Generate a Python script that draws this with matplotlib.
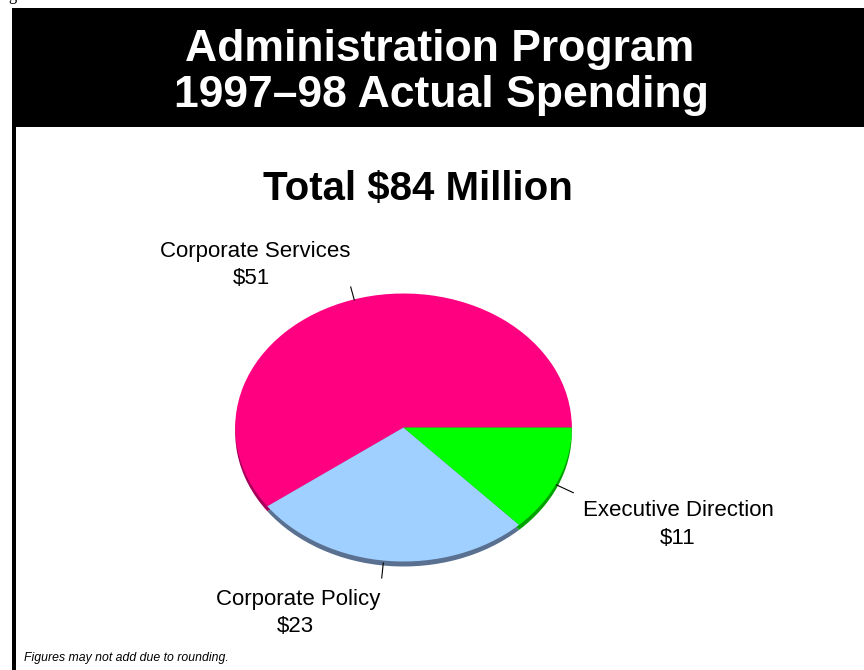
import matplotlib
matplotlib.use("Agg")
import matplotlib.pyplot as plt
from matplotlib.patches import Rectangle

# ---- data ----
categories = ["Corporate Services", "Corporate Policy", "Executive Direction"]
values = [51, 23, 11]
value_labels = ["$51", "$23", "$11"]
title_lines = ["Administration Program", "1997\u201398 Actual Spending"]
subtitle = "Total $84 Million"
footnote = "Figures may not add due to rounding."

top_colors = ["#FF0080", "#A0D0FF", "#00FF00"]
shadow_colors = ["#A8005A", "#5A7090", "#00A000"]

W, H = 864, 670
fig = plt.figure(figsize=(W / 100, H / 100), dpi=100)
fig.patch.set_facecolor("white")

def fx(px):
    return px / W

def fy(py):
    return 1 - py / H

# banner and left border
fig.patches.append(Rectangle((fx(12), fy(127)), fx(864) - fx(12), fy(8) - fy(127),
                             transform=fig.transFigure, facecolor="black",
                             edgecolor="none", zorder=0))
fig.patches.append(Rectangle((fx(12), 0), fx(16) - fx(12), fy(8),
                             transform=fig.transFigure, facecolor="black",
                             edgecolor="none", zorder=0))

# page caption cut off at the top edge (only a descender shows in the reference)
fig.text(fx(-4), fy(-0.5), "Figure", family="Liberation Serif", fontsize=12,
         va="baseline", ha="left", color="black")

fig.text(fx(440), fy(49), title_lines[0], family="Liberation Sans", weight="bold",
         fontsize=32, color="white", ha="center", va="center")
fig.text(fx(441), fy(96), title_lines[1], family="Liberation Sans", weight="bold",
         fontsize=32, color="white", ha="center", va="center")
fig.text(fx(418), fy(189), subtitle, family="Liberation Sans", weight="bold",
         fontsize=29, color="black", ha="center", va="center")

# pie axes: whole figure, data units = radius
cx, cy = 403.5, 427.5
rx, ry = 168.3, 134.0
ax = fig.add_axes([0, 0, 1, 1])
shadow_off = 5.0 / ry
ax.pie(values, colors=shadow_colors, startangle=0, counterclock=True,
       radius=1.0, center=(0, -shadow_off),
       wedgeprops=dict(linewidth=0, edgecolor="none"))
ax.pie(values, colors=top_colors, startangle=0, counterclock=True,
       radius=1.0, center=(0, 0),
       wedgeprops=dict(linewidth=0, edgecolor="none"))
ax.set_aspect("auto")
ax.set_xlim(-cx / rx, (W - cx) / rx)
ax.set_ylim(-(H - cy) / ry, cy / ry)
ax.axis("off")

# leader lines (pixel coords -> data)
def to_data(px, py):
    return (px - cx) / rx, (cy - py) / ry

leaders = [((350.7, 287), (354.3, 300)),
           ((383.3, 563), (381.7, 578)),
           ((556.7, 485), (573.3, 492.7))]
for (p1, p2) in leaders:
    a = to_data(*p1)
    b = to_data(*p2)
    ax.plot([a[0], b[0]], [a[1], b[1]], color="black", linewidth=0.8)

label_pos = [(255, 252, 251, 279), (298, 600, 295, 627), (678, 510, 678, 538)]
for cat, val, (x1, y1, x2, y2) in zip(categories, value_labels, label_pos):
    fig.text(fx(x1), fy(y1), cat, family="Liberation Sans", fontsize=16,
             ha="center", va="center", color="black")
    fig.text(fx(x2), fy(y2), val, family="Liberation Sans", fontsize=16,
             ha="center", va="center", color="black")

fig.text(fx(24), fy(658), footnote, family="Liberation Sans", style="italic",
         fontsize=8.8, ha="left", va="center", color="black")

fig.savefig("out.png", dpi=100)
